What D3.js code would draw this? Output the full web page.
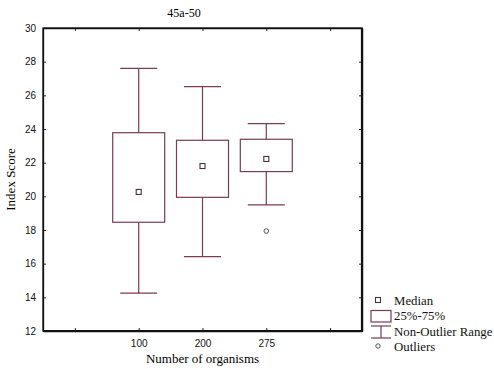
<!DOCTYPE html>
<html>
<head>
<meta charset="utf-8">
<script src="https://cdn.jsdelivr.net/npm/d3@7"></script>
<style>
  body { margin: 0; background: #fff; }
  svg { display: block; }
</style>
</head>
<body>
<div class="chart"></div>
<script>
const WIDTH = 494
const HEIGHT = 369
const MARGIN = { top: 28, right: 132, bottom: 38, left: 43 }

// x slots; the first and last are empty padding slots
const SLOTS = ["pad-left", "100", "200", "275", "pad-right"]
const GROUPS = ["100", "200", "275"]
const WHISKER_LOW = [14.25, 16.42, 19.49]
const Q1 = [18.46, 19.94, 21.47]
const MEDIANS = [20.26, 21.8, 22.22]
const Q3 = [23.78, 23.33, 23.39]
const WHISKER_HIGH = [27.6, 26.52, 24.32]
const OUTLIERS = [[], [], [17.94]]
const Y_TICKS = [12, 14, 16, 18, 20, 22, 24, 26, 28, 30]

const BOX_COLOR = "#7b3b52"
const SERIF = "'Liberation Serif', 'DejaVu Serif', serif"
const SANS = "'Liberation Sans', Arial, sans-serif"

const svg = d3.select(".chart").append("svg").attr("width", WIDTH).attr("height", HEIGHT)

const x = d3.scalePoint().domain(SLOTS).range([MARGIN.left, WIDTH - MARGIN.right]).padding(0.5)
const y = d3.scaleLinear().domain([12, 30]).range([HEIGHT - MARGIN.bottom, MARGIN.top])
const x0 = MARGIN.left, x1 = WIDTH - MARGIN.right
const y0 = MARGIN.top, y1 = HEIGHT - MARGIN.bottom

// Axes (ticks pointing inward)
const fmtX = d => d.startsWith("pad") ? "" : d
svg.append("g").attr("transform", `translate(0,${y1})`)
  .call(d3.axisBottom(x).tickSizeInner(-3).tickSizeOuter(0).tickPadding(9).tickFormat(fmtX))
svg.append("g").attr("transform", `translate(0,${y0})`)
  .call(d3.axisTop(x).tickSizeInner(-3).tickSizeOuter(0).tickFormat(""))
svg.append("g").attr("transform", `translate(${x0},0)`)
  .call(d3.axisLeft(y).tickValues(Y_TICKS).tickSizeInner(-3).tickSizeOuter(0).tickPadding(7))
svg.append("g").attr("transform", `translate(${x1},0)`)
  .call(d3.axisRight(y).tickValues(Y_TICKS).tickSizeInner(-3).tickSizeOuter(0).tickFormat(""))

svg.selectAll(".domain").attr("stroke", "#111").attr("stroke-width", 1.3)
svg.selectAll(".tick line").attr("stroke", "#222")
svg.selectAll(".tick text").attr("font-family", SANS).attr("font-size", 10).attr("fill", "#111")

// Frame (right and bottom edges drawn heavier, as in the original)
svg.append("rect").attr("x", x0).attr("y", y0).attr("width", x1 - x0).attr("height", y1 - y0)
  .attr("fill", "none").attr("stroke", "#111").attr("stroke-width", 1.3)
svg.append("line").attr("x1", x1).attr("x2", x1).attr("y1", y0).attr("y2", y1 + 1)
  .attr("stroke", "#111").attr("stroke-width", 2.2)
svg.append("line").attr("x1", x0).attr("x2", x1).attr("y1", y1).attr("y2", y1)
  .attr("stroke", "#111").attr("stroke-width", 1.8)

// Boxes
const BOX_W = 52, CAP_W = 37
const g = svg.append("g").attr("stroke", BOX_COLOR).attr("fill", "none").attr("stroke-width", 1.2)
GROUPS.forEach((grp, i) => {
  const cx = x(grp)
  g.append("line").attr("x1", cx).attr("x2", cx).attr("y1", y(WHISKER_HIGH[i])).attr("y2", y(Q3[i]))
  g.append("line").attr("x1", cx).attr("x2", cx).attr("y1", y(Q1[i])).attr("y2", y(WHISKER_LOW[i]))
  g.append("line").attr("x1", cx - CAP_W / 2).attr("x2", cx + CAP_W / 2).attr("y1", y(WHISKER_HIGH[i])).attr("y2", y(WHISKER_HIGH[i]))
  g.append("line").attr("x1", cx - CAP_W / 2).attr("x2", cx + CAP_W / 2).attr("y1", y(WHISKER_LOW[i])).attr("y2", y(WHISKER_LOW[i]))
  g.append("rect").attr("x", cx - BOX_W / 2).attr("y", y(Q3[i])).attr("width", BOX_W).attr("height", y(Q1[i]) - y(Q3[i]))
  g.append("rect").attr("x", cx - 2.5).attr("y", y(MEDIANS[i]) - 2.5).attr("width", 5).attr("height", 5)
    .attr("stroke", "#4a3038").attr("stroke-width", 1.1)
  OUTLIERS[i].forEach(v => {
    g.append("circle").attr("cx", cx).attr("cy", y(v)).attr("r", 2.3).attr("stroke", "#555").attr("stroke-width", 1)
  })
})

// Title and axis labels
svg.append("text").attr("x", 184).attr("y", 17).attr("text-anchor", "middle")
  .attr("font-family", SERIF).attr("font-size", 12).text("45a-50")
svg.append("text").attr("x", (x0 + x1) / 2).attr("y", 363).attr("text-anchor", "middle")
  .attr("font-family", SERIF).attr("font-size", 13).text("Number of organisms")
svg.append("text").attr("transform", `translate(15,${(y0 + y1) / 2}) rotate(-90)`).attr("text-anchor", "middle")
  .attr("font-family", SERIF).attr("font-size", 13).text("Index Score")

// Legend
const lg = svg.append("g").attr("font-family", SERIF).attr("font-size", 12.8).attr("fill", "#111")
const lx = 378, ltx = 394
lg.append("rect").attr("x", lx - 2.5).attr("y", 297.5).attr("width", 5).attr("height", 5)
  .attr("fill", "none").attr("stroke", "#4a3038").attr("stroke-width", 1.1)
lg.append("text").attr("x", ltx).attr("y", 304.5).text("Median")
lg.append("rect").attr("x", 371).attr("y", 310.5).attr("width", 20).attr("height", 11.5)
  .attr("fill", "none").attr("stroke", BOX_COLOR).attr("stroke-width", 1.2)
lg.append("text").attr("x", ltx).attr("y", 320).text("25%-75%")
const wl = lg.append("g").attr("stroke", BOX_COLOR).attr("stroke-width", 1.2)
wl.append("line").attr("x1", 371).attr("x2", 391).attr("y1", 326).attr("y2", 326)
wl.append("line").attr("x1", 381).attr("x2", 381).attr("y1", 326).attr("y2", 338)
wl.append("line").attr("x1", 371).attr("x2", 391).attr("y1", 338).attr("y2", 338)
lg.append("text").attr("x", ltx).attr("y", 335.5).text("Non-Outlier Range")
lg.append("circle").attr("cx", lx).attr("cy", 346).attr("r", 2.2)
  .attr("fill", "none").attr("stroke", "#555").attr("stroke-width", 1)
lg.append("text").attr("x", ltx).attr("y", 351).text("Outliers")
</script>
</body>
</html>
